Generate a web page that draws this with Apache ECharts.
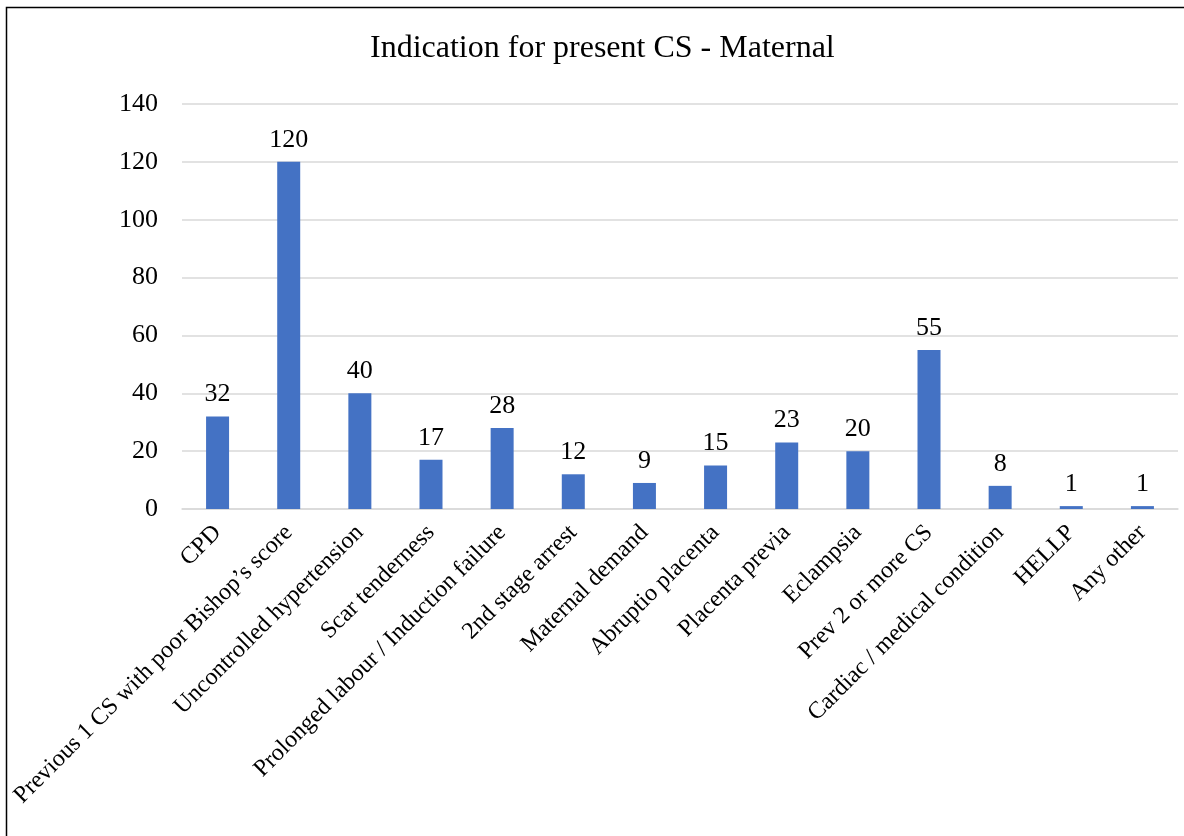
<!DOCTYPE html>
<html>
<head>
<meta charset="utf-8">
<script src="https://cdn.jsdelivr.net/npm/echarts@6/dist/echarts.min.js"></script>
<style>
  html, body { margin: 0; padding: 0; background: #ffffff; }
  #chart { width: 1184px; height: 836px; }
</style>
</head>
<body>
<div id="chart"></div>
<script>
// Maternal indications for the present caesarean section
const categories = [
  'CPD',
  'Previous 1 CS with poor Bishop\u2019s score',
  'Uncontrolled hypertension',
  'Scar tenderness',
  'Prolonged labour / Induction failure',
  '2nd stage arrest',
  'Maternal demand',
  'Abruptio placenta',
  'Placenta previa',
  'Eclampsia',
  'Prev 2 or more CS',
  'Cardiac / medical condition',
  'HELLP',
  'Any other'
];
const counts = [32, 120, 40, 17, 28, 12, 9, 15, 23, 20, 55, 8, 1, 1];
const yTicks = [0, 20, 40, 60, 80, 100, 120, 140];

const serif = '"Liberation Serif", "Times New Roman", serif';
const chart = echarts.init(document.getElementById('chart'), null, { renderer: 'canvas' });

chart.setOption({
  backgroundColor: '#ffffff',
  animation: false,
  title: {
    text: 'Indication for present CS - Maternal',
    left: 365,
    top: 28,
    textStyle: { fontFamily: serif, fontSize: 32, fontWeight: 'normal', color: '#000000' }
  },
  graphic: [{
    type: 'rect',
    shape: { x: 6.5, y: 7.5, width: 1300, height: 1000 },
    style: { fill: 'none', stroke: '#000000', lineWidth: 1.5 },
    silent: true
  }],
  grid: { left: 182, right: 6, top: 104, bottom: 327, containLabel: false },
  xAxis: {
    type: 'category',
    data: categories,
    axisLine: { show: true, lineStyle: { color: '#d9d9d9', width: 1.5 } },
    axisTick: { show: false },
    axisLabel: {
      interval: 0,
      rotate: 45,
      margin: 20,
      fontFamily: serif,
      fontSize: 24,
      color: '#000000'
    }
  },
  yAxis: {
    type: 'value',
    min: yTicks[0],
    max: yTicks[yTicks.length - 1],
    interval: 20,
    axisLine: { show: false },
    axisTick: { show: false },
    splitLine: { lineStyle: { color: '#d9d9d9', width: 1.5 } },
    axisLabel: { margin: 24, fontFamily: serif, fontSize: 26, color: '#000000' }
  },
  series: [{
    type: 'bar',
    data: counts,
    barWidth: 23,
    itemStyle: { color: '#4472c4' },
    label: {
      show: true,
      position: 'top',
      distance: 9,
      fontFamily: serif,
      fontSize: 26,
      color: '#000000'
    }
  }]
});
</script>
</body>
</html>
